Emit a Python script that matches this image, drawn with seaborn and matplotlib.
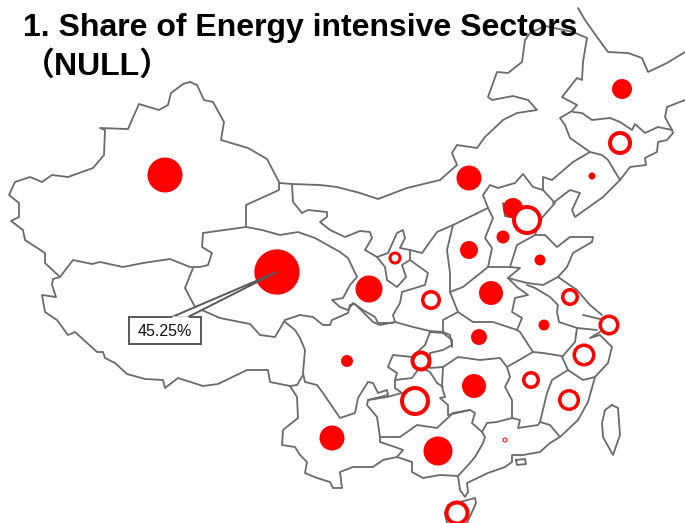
import matplotlib
matplotlib.use("Agg")
import matplotlib.pyplot as plt
import numpy as np
import pandas as pd
import seaborn as sns

sns.set_theme(style="white")
plt.rcParams['font.family'] = ['Liberation Sans', 'Noto Sans CJK SC', 'DejaVu Sans']

# province bubbles, picture coordinates. share is read from the bubble diameter
solid_names = ['Xinjiang', 'Qinghai', 'Heilongjiang', 'Liaoning', 'Inner Mongolia', 'Beijing', 'Hebei',
               'Shanxi', 'Shandong', 'Gansu', 'Henan', 'Anhui', 'Hubei', 'Sichuan', 'Hunan', 'Yunnan', 'Guangxi']
solid_x = [165, 277, 622, 592, 469, 513, 503, 469, 540, 369, 491, 544, 479, 347, 474, 332, 438]
solid_y = [175, 272, 89, 176, 178, 208, 237, 250, 260, 289, 293, 325, 337, 361, 386, 438, 451]
solid_share = [35, 45.25, 20, 7, 25, 20, 13, 18, 11, 27, 24, 11, 16, 12, 24, 25, 29]

ring_names = ['Jilin', 'Tianjin', 'Ningxia', 'Shaanxi', 'Jiangsu', 'Shanghai', 'Zhejiang', 'Chongqing',
              'Jiangxi', 'Guizhou', 'Fujian', 'Guangdong', 'Hainan']
ring_x = [620, 527, 395, 431, 570, 609, 584, 421, 531, 415, 569, 505, 457]
ring_y = [143, 220, 258, 300, 297, 325, 355, 361, 380, 401, 400, 440, 513]
ring_share = [24, 30, 13, 20, 18, 21, 23, 21, 18, 30, 22, 5, 25]
ring_width = [4, 4, 3, 3.5, 3.5, 3.5, 3.5, 4, 3.5, 4, 3.5, 1, 4]

# map outlines
borders = [
    # Xinjiang
    [(190, 82), (197, 85), (204, 100), (213, 102), (224, 122), (221, 140), (248, 148), (267, 159), (279, 182),
     (279, 190), (246, 205), (246, 227), (203, 233), (202, 247), (212, 253), (208, 265), (200, 267), (190, 267),
     (170, 259), (143, 263), (123, 267), (100, 262), (92, 264), (73, 260), (60, 277), (45, 263), (45, 253),
     (25, 240), (23, 230), (11, 221), (19, 217), (19, 203), (9, 195), (15, 182), (30, 177), (42, 182), (52, 175),
     (68, 177), (93, 168), (104, 155), (105, 130), (100, 128), (128, 129), (139, 104), (159, 110), (168, 105),
     (171, 93), (183, 84), (190, 82)],
    # Tibet
    [(60, 277), (53, 279), (52, 285), (56, 297), (42, 295), (45, 312), (57, 320), (68, 335), (75, 332), (97, 352),
     (103, 352), (105, 358), (115, 363), (127, 374), (145, 379), (163, 380), (165, 388), (178, 378), (203, 386),
     (218, 384), (247, 370), (262, 370), (268, 370), (270, 382), (290, 386), (297, 385), (303, 375)],
    # Qinghai south
    [(193, 268), (185, 288), (195, 307), (220, 318), (250, 324), (260, 335), (275, 337), (285, 320), (300, 315),
     (313, 317), (323, 325), (330, 325), (332, 320), (348, 313), (350, 305), (355, 304), (373, 322), (380, 325),
     (395, 322), (413, 327), (430, 331), (443, 332)],
    # Sichuan west and south
    [(285, 322), (295, 330), (300, 338), (305, 350), (303, 373), (305, 382), (317, 385), (323, 393), (340, 418),
     (355, 413), (358, 398), (368, 382), (373, 383), (378, 393), (387, 390), (388, 395), (368, 400), (367, 405),
     (377, 417), (380, 437), (400, 437), (417, 425), (437, 428), (453, 413), (470, 410)],
    # Yunnan
    [(290, 386), (297, 397), (298, 418), (283, 430), (282, 445), (295, 447), (300, 455), (307, 462), (305, 473),
     (317, 478), (330, 482), (333, 488), (342, 488), (340, 472), (353, 467), (373, 467), (383, 460), (397, 457),
     (403, 450), (395, 447), (380, 442), (380, 437)],
    # Guangxi coast
    [(397, 457), (412, 462), (412, 472), (423, 478), (440, 475), (458, 476), (470, 463), (475, 457), (483, 443),
     (485, 437), (482, 432)],
    # Qinghai north
    [(246, 227), (262, 230), (280, 235), (298, 232), (315, 238), (340, 252),
     (348, 258), (357, 277), (350, 285), (343, 298), (332, 300), (340, 307), (348, 310), (353, 303), (363, 310),
     (375, 317), (378, 323), (393, 323)],
    # Inner Mongolia south
    [(279, 183), (292, 184), (320, 185), (337, 187), (360, 193), (378, 199), (407, 188), (440, 180), (457, 165),
     (452, 153), (457, 145), (477, 148), (485, 137), (503, 120), (517, 113), (537, 110), (528, 100), (513, 96),
     (492, 100), (488, 97), (497, 72), (508, 73), (522, 62), (525, 40), (530, 33), (545, 26), (573, 32), (587, 38),
     (583, 62), (582, 80), (577, 78), (562, 97), (577, 105), (572, 111), (560, 118), (565, 125), (570, 138),
     (590, 152)],
    [(292, 184), (293, 202), (302, 213), (308, 210), (327, 212), (327, 217), (320, 222), (330, 230), (345, 237),
     (360, 231), (370, 232), (372, 238), (365, 250), (377, 257), (388, 253), (397, 233), (403, 230), (405, 238),
     (400, 248), (410, 250), (422, 253), (437, 232), (453, 225), (488, 208)],
    # Ningxia
    [(377, 257), (385, 267), (387, 280), (397, 287), (406, 277), (402, 265), (410, 260), (410, 250)],
    # Shaanxi
    [(410, 260), (428, 273), (425, 285), (402, 292), (400, 303), (393, 315), (395, 322)],
    [(453, 225), (447, 250), (450, 273), (450, 292), (458, 312), (443, 320), (443, 332), (450, 335), (452, 345),
     (443, 350), (430, 353), (430, 368), (443, 367), (458, 357), (480, 360), (500, 358), (507, 367), (533, 352),
     (543, 353), (562, 356)],
    # Shanxi, Hebei
    [(450, 292), (463, 287), (488, 267), (510, 267), (517, 245), (535, 235), (540, 220), (555, 203), (543, 190),
     (533, 187), (523, 174), (515, 183), (498, 188), (490, 185), (483, 195), (488, 208), (493, 218), (485, 238),
     (492, 248), (488, 267)],
    # Liaoning and Jilin
    [(543, 190), (543, 177), (552, 180), (573, 162), (590, 152), (602, 155), (608, 160), (620, 180), (603, 197),
     (575, 217), (572, 210), (580, 193), (570, 190), (553, 203)],
    [(620, 180), (630, 167), (646, 165), (645, 158), (657, 152), (658, 142), (667, 140), (673, 133), (672, 130),
     (658, 127), (645, 133), (635, 124), (632, 130), (620, 122), (610, 118), (592, 120), (582, 113), (573, 112)],
    # Heilongjiang
    [(578, 8), (585, 20), (597, 37), (608, 52), (628, 53), (642, 58), (648, 72), (667, 63), (685, 52)],
    [(685, 100), (667, 107), (665, 117), (672, 130)],
    # Shandong
    [(535, 235), (545, 235), (557, 247), (570, 237), (593, 237), (592, 242), (573, 253), (567, 267), (558, 277),
     (543, 285), (527, 283), (508, 278), (520, 268), (510, 267)],
    # Henan south and east
    [(458, 312), (473, 322), (493, 322), (517, 330), (522, 318), (512, 312), (515, 298), (528, 295), (517, 287),
     (508, 278)],
    # Jiangsu and Anhui
    [(527, 285), (535, 288), (550, 297), (558, 305), (557, 312), (559, 322), (577, 328), (597, 330)],
    [(558, 277), (577, 290), (590, 305), (602, 315)],
    [(517, 330), (520, 332), (533, 352)],
    [(577, 328), (575, 342), (562, 357), (568, 370), (583, 380), (595, 377), (608, 363), (612, 347), (600, 335),
     (590, 338), (600, 332)],
    [(583, 315), (600, 319)],
    # Fujian
    [(568, 370), (552, 380), (547, 393), (540, 422), (550, 425), (560, 437), (578, 420), (588, 402), (595, 377)],
    # Jiangxi and Hunan
    [(507, 367), (510, 377), (505, 387), (512, 400), (512, 418), (520, 420), (518, 428), (538, 425), (540, 422)],
    [(443, 367), (442, 387), (445, 397), (440, 398), (448, 405), (448, 415), (470, 410), (475, 413), (472, 423),
     (482, 432), (487, 423), (497, 422), (512, 418)],
    # Guangdong coast
    [(458, 476), (460, 490), (465, 497), (468, 492), (467, 483), (488, 473), (505, 467), (512, 462), (512, 455),
     (523, 455), (540, 452), (550, 443), (560, 437)],
    [(516, 460), (525, 459), (526, 464), (517, 465), (516, 460)],
    # Chongqing and Guizhou
    [(402, 393), (387, 397), (368, 400)],
    [(402, 393), (395, 388), (395, 380), (412, 378), (420, 367), (430, 372), (437, 383), (443, 387)],
    [(395, 380), (397, 373), (388, 367), (390, 362), (393, 355), (412, 357), (425, 345), (430, 332)],
    [(430, 332), (443, 333), (452, 340), (452, 347)],
    # Beijing
    [(503, 203), (505, 216), (515, 218)],
    # Hainan
    [(445, 513), (448, 505), (460, 502), (475, 498), (476, 503), (472, 512), (467, 523)],
    [(445, 513), (447, 523)],
    # Taiwan
    [(612, 405), (618, 408), (620, 435), (613, 455), (603, 437), (602, 423), (605, 410), (612, 405)],
]

title_line1 = '1. Share of Energy intensive Sectors'
title_line2 = '（NULL）'
callout_label = '45.25%'

outline = pd.DataFrame(
    [{'seg': i, 'order': j, 'x': p[0], 'y': p[1]} for i, seg in enumerate(borders) for j, p in enumerate(seg)]
)
solid = pd.DataFrame({'province': solid_names, 'x': solid_x, 'y': solid_y, 'share': solid_share})
ring = pd.DataFrame({'province': ring_names, 'x': ring_x, 'y': ring_y, 'share': ring_share, 'width': ring_width})

px = 72 / 100

fig = plt.figure(figsize=(6.85, 5.23), dpi=100)
ax = fig.add_axes([0, 0, 1, 1])

sns.lineplot(data=outline, x='x', y='y', units='seg', estimator=None, sort=False,
             color='#6a6a6a', linewidth=1.3, ax=ax, zorder=1)

# bubble diameter in pixels follows the share
sns.scatterplot(data=solid, x='x', y='y', s=(solid['share'] * px) ** 2, color='#ff0000',
                linewidth=0, ax=ax, zorder=3)
sns.scatterplot(data=ring, x='x', y='y', s=((ring['share'] - ring['width']) * px) ** 2, color='white',
                edgecolor='#ff0000', linewidth=ring['width'] * px, ax=ax, zorder=3)

# callout for the largest share
tip = (solid_x[1], solid_y[1])
ax.fill([172, tip[0], 188], [317, tip[1], 317], facecolor='white', edgecolor='#595959', linewidth=1.4, zorder=4)
ax.fill([129, 201, 201, 129], [317, 317, 344, 344], facecolor='white', edgecolor='#595959', linewidth=1.4, zorder=4)
ax.plot([173, 187], [317, 317], color='white', linewidth=1.8, zorder=5)
ax.text(165, 331, callout_label, fontsize=11.5, color='#111111', ha='center', va='center', zorder=6)

ax.text(23, 36, title_line1, fontsize=23, fontweight='bold', color='black', va='baseline', zorder=6)
ax.text(23, 75, title_line2, fontsize=23, fontweight='bold', color='black', va='baseline', zorder=6)

ax.set_xlim(0, 685)
ax.set_ylim(523, 0)
ax.set_axis_off()

fig.savefig('out.png', dpi=100)
